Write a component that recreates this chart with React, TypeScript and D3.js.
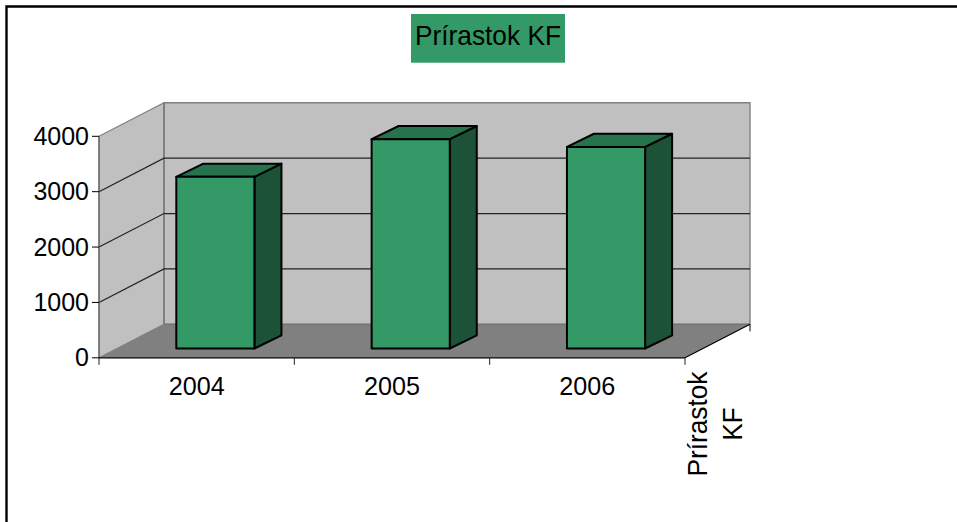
import React from "react";
import * as d3 from "d3";

const categories = ["2004", "2005", "2006"];
const seriesValues = [3100, 3780, 3640];
const yTicks = [0, 1000, 2000, 3000, 4000];
const chartTitle = "Prírastok KF";
const seriesLabelLines = ["Prírastok", "KF"];

const FONT = "'Liberation Sans', Arial, sans-serif";
const left = 99, right = 685, y0 = 357.8, y4k = 136.3;
const depthX = 65, depthY = 33.5;
const barOffX = 18.7, barOffY = 9.3;
const barDX = 27, barDY = 13.2;

const y = d3.scaleLinear().domain([0, 4000]).range([y0, y4k]);
const xAxis = d3.scaleBand<string>().domain(categories).range([left, right]);
const xBar = d3.scaleBand<string>().domain(categories).range([left + barOffX, right + barOffX]).paddingInner(0.6).paddingOuter(0.3);

const pts = (p: [number, number][]) => p.map((q) => q.join(",")).join(" ");

export default function App() {
  const step = xAxis.step();
  const xTicks = d3.range(categories.length + 1).map((i) => left + i * step);
  return (
    <svg width={957} height={522} style={{ position: "absolute", left: 0, top: 0, background: "#fff" }} fontFamily={FONT}>
      <path d="M6.5,522V6.5H957" fill="none" stroke="#000" strokeWidth={2.4} />

      <rect x={411} y={14} width={154} height={48.7} fill="#339966" />
      <text x={488} y={45} textAnchor="middle" fontSize={28} textLength={146} lengthAdjust="spacingAndGlyphs" fill="#000">{chartTitle}</text>

      {/* walls and floor */}
      <polygon points={pts([[left, y(4000)], [left + depthX, y(4000) - depthY], [left + depthX, y0 - depthY], [left, y0]])} fill="#c0c0c0" stroke="#808080" strokeWidth={1.2} />
      <polygon points={pts([[left + depthX, y(4000) - depthY], [right + depthX, y(4000) - depthY], [right + depthX, y0 - depthY], [left + depthX, y0 - depthY]])} fill="#c0c0c0" stroke="#808080" strokeWidth={1.4} />
      <polygon points={pts([[left, y0], [right, y0], [right + depthX, y0 - depthY], [left + depthX, y0 - depthY]])} fill="#808080" />
      <line x1={left + depthX} x2={right + depthX} y1={y0 - depthY} y2={y0 - depthY} stroke="#737373" strokeWidth={1.2} />
      <line x1={left + depthX} x2={left + depthX} y1={y(4000) - depthY} y2={y0 - depthY} stroke="#808080" strokeWidth={2} />

      {/* gridlines */}
      {yTicks.slice(1, -1).map((t) => (
        <polyline key={t} points={pts([[left, y(t)], [left + depthX, y(t) - depthY], [right + depthX, y(t) - depthY]])} fill="none" stroke="#222" strokeWidth={1.2} />
      ))}

      {/* bars */}
      {categories.map((c, i) => {
        const x1 = xBar(c)!;
        const x2 = x1 + xBar.bandwidth();
        const base = y0 - barOffY;
        const top = base - (y0 - y(seriesValues[i]));
        return (
          <g key={c} stroke="#000" strokeWidth={2} strokeLinejoin="round">
            <polygon points={pts([[x2, top], [x2 + barDX, top - barDY], [x2 + barDX, base - barDY], [x2, base]])} fill="#1c5338" />
            <polygon points={pts([[x1, top], [x1 + barDX, top - barDY], [x2 + barDX, top - barDY], [x2, top]])} fill="#26734d" />
            <rect x={x1} y={top} width={x2 - x1} height={base - top} fill="#339966" />
          </g>
        );
      })}

      {/* axes */}
      <line x1={left} x2={left} y1={y4k} y2={y0} stroke="#606060" strokeWidth={1.2} />
      <line x1={left} x2={right} y1={y0} y2={y0} stroke="#000" strokeWidth={1.2} />
      <line x1={right} x2={right + depthX} y1={y0} y2={y0 - depthY} stroke="#000" strokeWidth={1.2} />
      <line x1={right + depthX} x2={right + depthX} y1={y0 - depthY} y2={y0 - depthY + 7} stroke="#000" strokeWidth={1} />
      {xTicks.map((x) => (
        <line key={x} x1={x} x2={x} y1={y0} y2={y0 + 7} stroke="#222" strokeWidth={1} />
      ))}
      {yTicks.map((t) => (
        <g key={t}>
          <line x1={left - 7} x2={left} y1={y(t)} y2={y(t)} stroke="#000" strokeWidth={1} />
          <text x={89} y={y(t) + 8.5} textAnchor="end" fontSize={25} fill="#000">{t}</text>
        </g>
      ))}
      {categories.map((c) => (
        <text key={c} x={xAxis(c)! + step / 2} y={394.5} textAnchor="middle" fontSize={26} textLength={56} lengthAdjust="spacingAndGlyphs" fill="#000">{c}</text>
      ))}
      <text transform="translate(707,424) rotate(-90)" textAnchor="middle" fontSize={28} textLength={105} lengthAdjust="spacingAndGlyphs" fill="#000">{seriesLabelLines[0]}</text>
      <text transform="translate(742,424) rotate(-90)" textAnchor="middle" fontSize={28} textLength={33} lengthAdjust="spacingAndGlyphs" fill="#000">{seriesLabelLines[1]}</text>
    </svg>
  );
}
